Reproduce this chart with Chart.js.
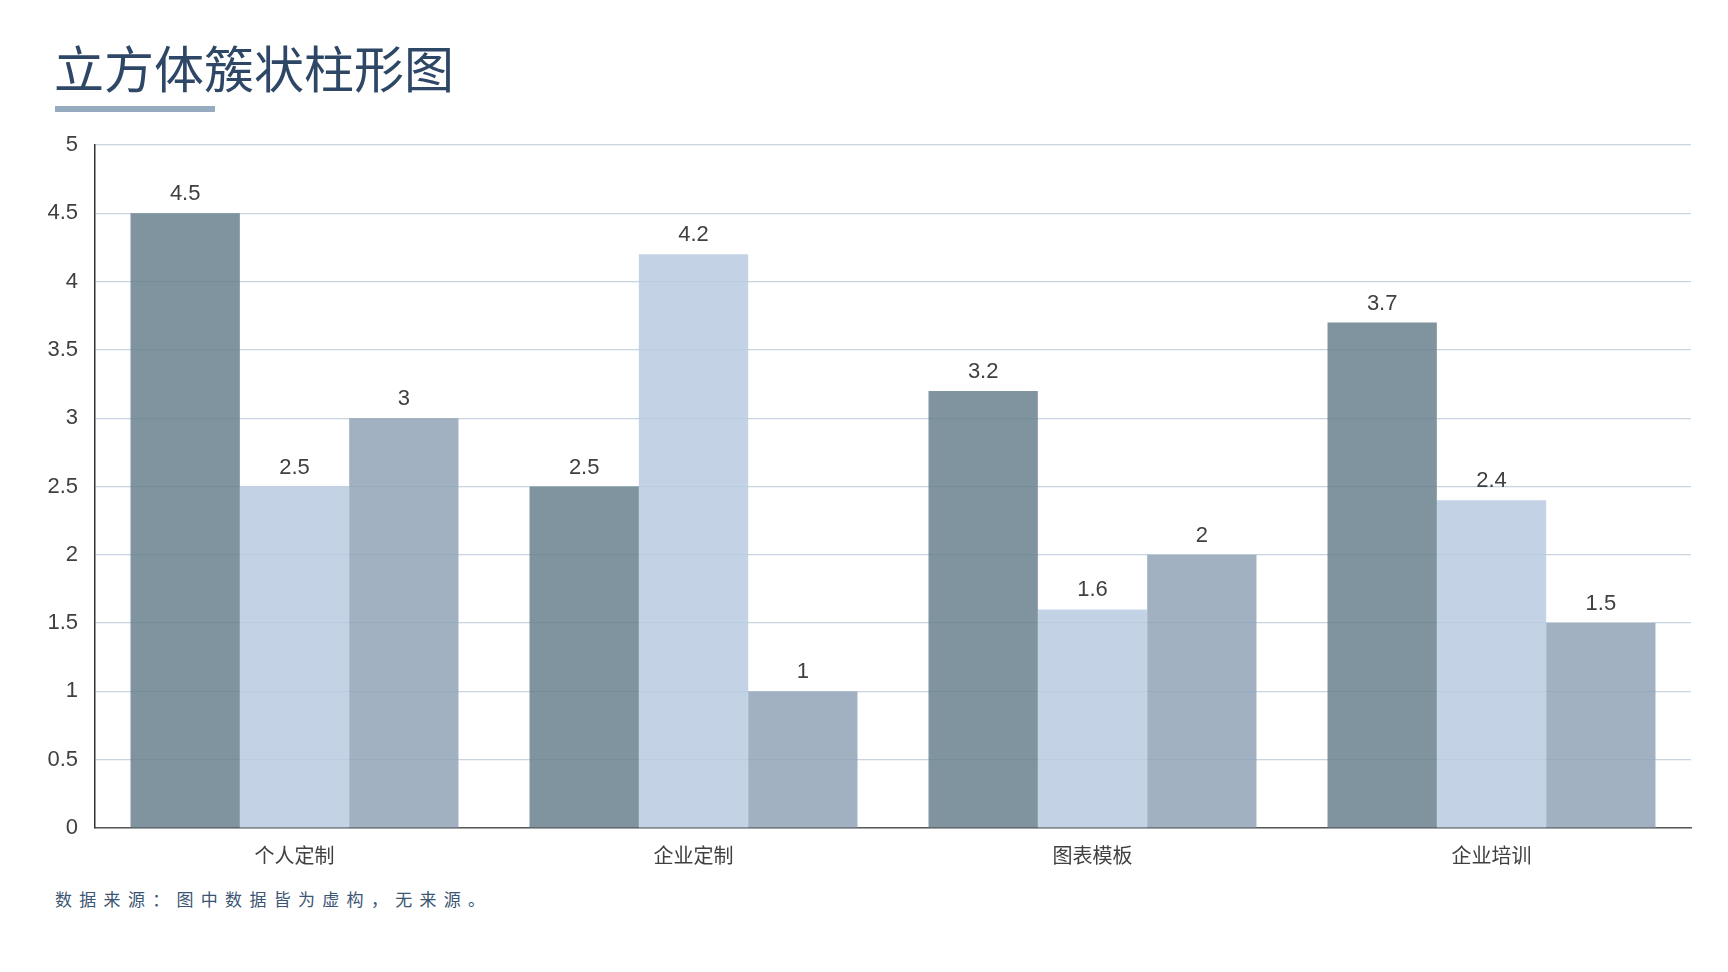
<!DOCTYPE html>
<html>
<head>
<meta charset="utf-8">
<script src="https://cdn.jsdelivr.net/npm/chart.js@4"></script>
<style>
  html, body { margin: 0; padding: 0; background: #fff; }
  body { width: 1728px; height: 972px; position: relative; overflow: hidden; }
  .title { position: absolute; left: 54px; top: 30px; font: 400 50px "Noto Sans CJK SC", sans-serif; color: #2e4766; line-height: 72px; white-space: nowrap; }
  .titleBar { position: absolute; left: 55px; top: 106px; width: 160px; height: 6px; background: #96abbf; }
  .note { position: absolute; left: 55px; top: 887px; font: 400 17px "Noto Sans CJK SC", sans-serif; color: #3b5573; letter-spacing: 7.3px; line-height: 24px; white-space: nowrap; }
  #wrap { position: absolute; left: 0; top: 0; width: 1728px; height: 972px; }
</style>
</head>
<body>
<div class="title">立方体簇状柱形图</div>
<div class="titleBar"></div>
<div class="note">数据来源：图中数据皆为虚构，无来源。</div>
<div id="wrap"><canvas id="barChart" width="1728" height="972"></canvas></div>

<script>
// DATA
const categories = ['个人定制', '企业定制', '图表模板', '企业培训'];
const series1 = [4.5, 2.5, 3.2, 3.7];
const series2 = [2.5, 4.2, 1.6, 2.4];
const series3 = [3, 1, 2, 1.5];
const seriesNames = ['系列1', '系列2', '系列3'];

// value labels above bars
const valueLabels = {
  id: 'valueLabels',
  afterDatasetsDraw(chart) {
    const ctx = chart.ctx;
    ctx.save();
    ctx.font = '22px "Liberation Sans", Arial, sans-serif';
    ctx.fillStyle = '#404040';
    ctx.textAlign = 'center';
    ctx.textBaseline = 'alphabetic';
    chart.data.datasets.forEach((ds, i) => {
      chart.getDatasetMeta(i).data.forEach((bar, j) => {
        ctx.fillText(String(ds.data[j]), bar.x, bar.y - 13);
      });
    });
    ctx.restore();
  }
};

const ctx = document.getElementById('barChart');

new Chart(ctx, {
  type: 'bar',
  data: {
    labels: categories,
    datasets: [
      { label: seriesNames[0], data: series1, backgroundColor: 'rgba(104,129,141,0.85)' },
      { label: seriesNames[1], data: series2, backgroundColor: 'rgba(184,203,224,0.85)' },
      { label: seriesNames[2], data: series3, backgroundColor: 'rgba(144,163,182,0.85)' }
    ]
  },
  options: {
    responsive: false,
    animation: false,
    categoryPercentage: 0.822,
    barPercentage: 1,
    layout: { padding: { top: 145, right: 37, bottom: 84, left: 0 } },
    plugins: {
      legend: { display: false },
      tooltip: { enabled: false }
    },
    scales: {
      x: {
        grid: { display: false, drawTicks: false },
        border: { display: true, color: '#595959', width: 1.5 },
        ticks: {
          padding: 15,
          color: '#404040',
          font: { family: '"Noto Sans CJK SC", sans-serif', size: 20 }
        },
        afterFit: (scale) => { scale.height = 60; }
      },
      y: {
        min: 0,
        max: 5,
        ticks: {
          stepSize: 0.5,
          padding: 17,
          color: '#404040',
          font: { family: '"Liberation Sans", Arial, sans-serif', size: 22 },
          callback: (v) => String(Number(v))
        },
        grid: { color: '#c8d4df', lineWidth: 1.2, drawTicks: false },
        border: { display: true, color: '#333333', width: 1.5 },
        afterFit: (scale) => { scale.width = 95; }
      }
    }
  },
  plugins: [valueLabels]
});
</script>
</body>
</html>
